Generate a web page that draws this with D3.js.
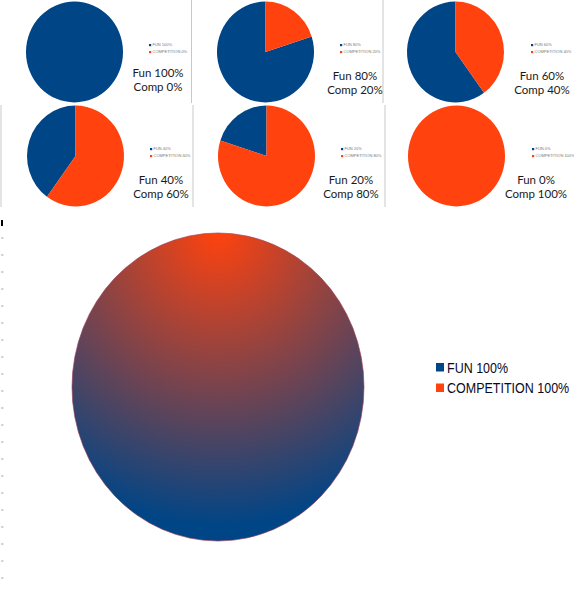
<!DOCTYPE html>
<head>
  <meta charset="utf-8">
  <script src="https://d3js.org/d3.v7.min.js"></script>
  <style>
    body { margin: 0; background: #fff; }
  </style>
</head>
<body>
  <svg width="574" height="596"></svg>
  <script>
    // small multiples: share of fun vs competition
    const funValues = [100, 80, 60, 40, 20, 0];
    const compValues = [0, 20, 40, 60, 80, 100];
    const seriesNames = ["FUN", "COMPETITION"];
    const seriesColors = ["#004586", "#ff420e"];
    // big chart at the bottom
    const bigLabels = ["FUN 100%", "COMPETITION 100%"];
    const bigValues = [100, 100];

    const svg = d3.select("svg");

    const cellW = 191, cellH = 104;
    const pie = d3.pie().sort(null).startAngle(0).endAngle(-2 * Math.PI);
    const smallArc = d3.arc().innerRadius(0).outerRadius(48.5);

    // cell borders (screenshot frames)
    const border = svg.append("g").attr("stroke", "#c8c8c8").attr("stroke-width", 1);
    [[191.5, 0, 103], [383, 0, 103], [1, 105, 207], [193, 105, 207], [385, 105, 207]].forEach(b => {
      border.append("line").attr("x1", b[0]).attr("x2", b[0]).attr("y1", b[1]).attr("y2", b[2]);
    });

    funValues.forEach((f, i) => {
      const c = compValues[i];
      const col = i % 3, row = Math.floor(i / 3);
      const x0 = col * cellW + (row === 1 ? 1 : 0);
      const y0 = row * cellH;
      const g = svg.append("g");

      const pg = g.append("g")
        .attr("transform", `translate(${x0 + 74.5 - (col === 2 ? 1 : 0)},${y0 + 52})scale(1,1.04)`);
      pg.selectAll("path")
        .data(pie([f, c]))
        .join("path")
        .attr("d", smallArc)
        .attr("fill", (d, k) => seriesColors[k]);

      // tiny legend
      const lg = g.append("g").attr("transform", `translate(${x0 + 149},${y0 + 44})`);
      const vals = [f, c];
      seriesNames.forEach((n, k) => {
        lg.append("rect").attr("x", 0).attr("y", k * 7).attr("width", 2.2).attr("height", 2.2)
          .attr("fill", seriesColors[k]);
        lg.append("text").attr("x", 3.5).attr("y", k * 7 + 2.3)
          .attr("font-family", "Liberation Sans").attr("font-size", 4)
          .attr("fill", "#777").text(`${n} ${vals[k]}%`);
      });

      // annotation
      const tx = x0 + [158, 164, 160, 160, 159, 153][i];
      const ty = y0 + (i === 0 ? 77 : 80);
      const tg = g.append("g").attr("font-family", "Lato").attr("font-size", 11.5)
        .attr("fill", "#1a1a1a").attr("text-anchor", "middle");
      tg.append("text").attr("x", tx).attr("y", ty).text(`Fun ${f}%`);
      tg.append("text").attr("x", tx).attr("y", ty + 14).text(`Comp ${c}%`);
    });

    // left ruler ticks
    svg.append("rect").attr("x", 1).attr("y", 220).attr("width", 2).attr("height", 6).attr("fill", "#000");
    const tickY = d3.scaleLinear().domain([0, 20]).range([238, 578]);
    svg.append("g").selectAll("line")
      .data(d3.range(0, 21))
      .join("line")
      .attr("x1", 1).attr("x2", 3.5)
      .attr("y1", d => tickY(d)).attr("y2", d => tickY(d))
      .attr("stroke", "#aaa").attr("stroke-width", 1);

    // big pie with gradient fill
    const bigR = 146;
    const defs = svg.append("defs");
    const grad = defs.append("radialGradient")
      .attr("id", "bigGrad")
      .attr("gradientUnits", "userSpaceOnUse")
      .attr("cx", 0).attr("cy", -bigR).attr("fx", 0).attr("fy", -bigR)
      .attr("r", 1.9 * bigR);
    grad.append("stop").attr("offset", "0%").attr("stop-color", seriesColors[1]);
    grad.append("stop").attr("offset", "100%").attr("stop-color", seriesColors[0]);

    const bg = svg.append("g").attr("transform", "translate(218,387)scale(1,1.055)");
    const bigArc = d3.arc().innerRadius(0).outerRadius(bigR);
    const total = d3.sum(bigValues);
    bg.append("path")
      .datum({ startAngle: 0, endAngle: 2 * Math.PI * total / total })
      .attr("d", bigArc)
      .attr("fill", "url(#bigGrad)")
      .attr("stroke", "#9a3a50").attr("stroke-width", 0.6);

    const leg = svg.append("g").attr("transform", "translate(436,363)");
    bigLabels.forEach((l, k) => {
      leg.append("rect").attr("x", 0).attr("y", k * 20.5).attr("width", 8).attr("height", 8.5)
        .attr("fill", seriesColors[k]);
      leg.append("text").attr("x", 11).attr("y", k * 20.5 + 9.5)
        .attr("font-family", "Liberation Sans").attr("font-size", 12.5)
        .attr("fill", "#0a0a28").attr("transform", `translate(0,${k * 20.5 + 9.5})scale(1,1.12)translate(0,${-(k * 20.5 + 9.5)})`)
        .text(l);
    });
  </script>
</body>
